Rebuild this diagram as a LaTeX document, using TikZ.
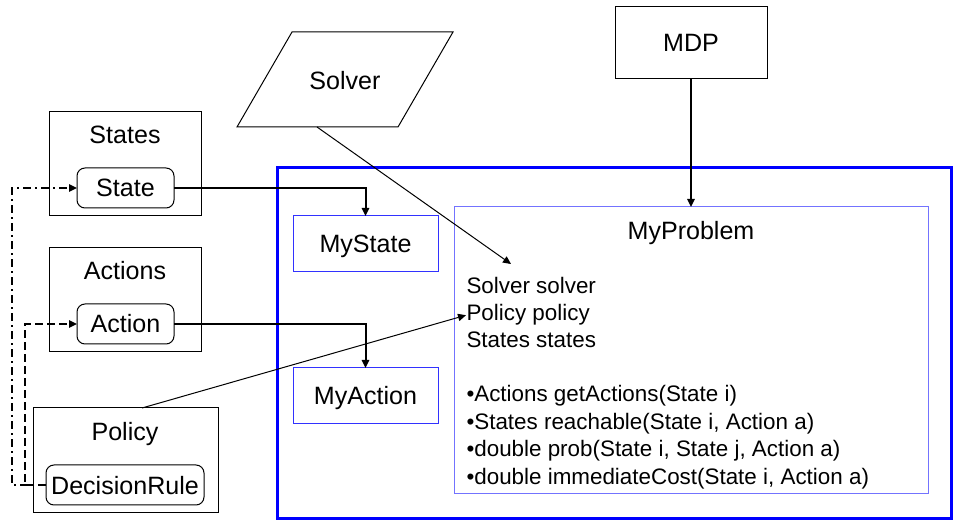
\documentclass[tikz,border=0pt]{standalone}
\usepackage{fontspec}
\setmainfont{Liberation Sans}
\usetikzlibrary{arrows.meta}

\definecolor{frameblue}{RGB}{0,0,255}
\definecolor{classblue}{RGB}{50,50,255}
\definecolor{probblue}{RGB}{115,115,255}

\tikzset{every picture/.style={line width=0.75pt}}
\tikzset{
	labelfont/.style={font=\fontsize{18.8}{22}\selectfont, text height=13.5pt, text depth=0pt},
	bodyfont/.style={font=\fontsize{16.8}{20}\selectfont, inner sep=0pt},
	plainbox/.style={draw, inner sep=0pt, outer sep=0pt},
	roundbox/.style={plainbox, rounded corners=6pt, labelfont},
	classbox/.style={draw=classblue, inner sep=0pt, outer sep=0pt, labelfont},
	tip/.style={-{Triangle[length=6pt,width=5.5pt]}},
	thickarrow/.style={tip, line width=1.5pt},
	dashlink/.style={tip, line width=1.8pt},
}

\begin{document}
\begin{tikzpicture}[x=0.75pt,y=0.75pt,yscale=-1,xscale=1]
		\useasboundingbox (0,0) rectangle (953,523);
		%Shape: Rectangle [outer frame]
		\draw (614,343.5) node [draw=frameblue, line width=2.25pt, minimum width=505.5pt, minimum height=263.25pt, inner sep=0pt] (frame) {};
		%Shape: Rectangle [MyProblem]
		\draw (691,350.5) node [draw=probblue, minimum width=355.5pt, minimum height=215.25pt, inner sep=0pt, outer sep=0pt] (myproblem) {};
		% Text Node
		\draw (691,230.5) node [labelfont] (myproblemL) {MyProblem};
		% Text Node
		\draw (466,294) node [bodyfont, anchor=base west] (fsolver) {Solver solver};
		% Text Node
		\draw (466,321) node [bodyfont, anchor=base west] (fpolicy) {Policy policy};
		% Text Node
		\draw (466,348) node [bodyfont, anchor=base west] (fstates) {States states};
		% Text Node
		\draw (466,402) node [bodyfont, anchor=base west] (mactions) {•Actions getActions(State i)};
		% Text Node
		\draw (466,429.5) node [bodyfont, anchor=base west] (mreachable) {•States reachable(State i, Action a)};
		% Text Node
		\draw (466,456.5) node [bodyfont, anchor=base west] (mprob) {•double prob(State i, State j, Action a)};
		% Text Node
		\draw (466,484) node [bodyfont, anchor=base west] (mcost) {•double immediateCost(State i, Action a)};
		%Shape: Rectangle [MyState, MyAction]
		\draw (365.5,244) node [classbox, minimum width=108.75pt, minimum height=42pt] (mystate) {MyState};
		\draw (365.5,396) node [classbox, minimum width=108.75pt, minimum height=42pt] (myaction) {MyAction};

		%Shape: Rectangle [States]
		\draw (125,164) node [plainbox, minimum width=114pt, minimum height=78pt] (states) {};
		% Text Node
		\draw (125,135) node [labelfont] (statesL) {States};
		\draw (125.5,188) node [roundbox, minimum width=72.75pt, minimum height=30pt] (state) {State};
		%Shape: Rectangle [Actions]
		\draw (125,300) node [plainbox, minimum width=114pt, minimum height=78pt] (actions) {};
		% Text Node
		\draw (125,271) node [labelfont] (actionsL) {Actions};
		\draw (125.5,324) node [roundbox, minimum width=72.75pt, minimum height=30pt] (action) {Action};
		%Shape: Rectangle [Policy]
		\draw (125.5,460.5) node [plainbox, minimum width=138.75pt, minimum height=78.75pt] (policy) {};
		% Text Node
		\draw (125,431.5) node [labelfont] (policyL) {Policy};
		\draw (125,485) node [roundbox, minimum width=118.5pt, minimum height=30pt] (decrule) {DecisionRule};

		%Shape: Parallelogram [Solver]
		\draw (237,127) -- (292,32) -- (453,32) -- (398,127) -- cycle;
		% Text Node
		\draw (345,80.5) node [labelfont] (solver) {Solver};
		\coordinate (solverfoot) at (317,127);
		%Shape: Rectangle [MDP]
		\draw (691,43) node [plainbox, labelfont, minimum width=114pt, minimum height=54pt] (mdp) {MDP};

		\coordinate (solvertip) at (511,264);
		% Connectors
		\draw [thickarrow] (mdp.south) -- (myproblem.north);
		\draw [thickarrow] (state.east) -| (mystate.north);
		\draw [thickarrow] (action.east) -| (myaction.north);
		\draw [tip] (solverfoot) -- (solvertip);
		\draw [tip] ([xshift=12.4pt]policy.north) -- (fpolicy.west);
		\draw [dashlink, dash pattern=on 6pt off 3pt on 1.5pt off 3pt] (decrule.west) -- ++(-34,0) |- (state.west);
		\draw [dashlink, dash pattern=on 6pt off 3pt] (decrule.west) -- ++(-21,0) |- (action.west);

	\end{tikzpicture}
\end{document}
